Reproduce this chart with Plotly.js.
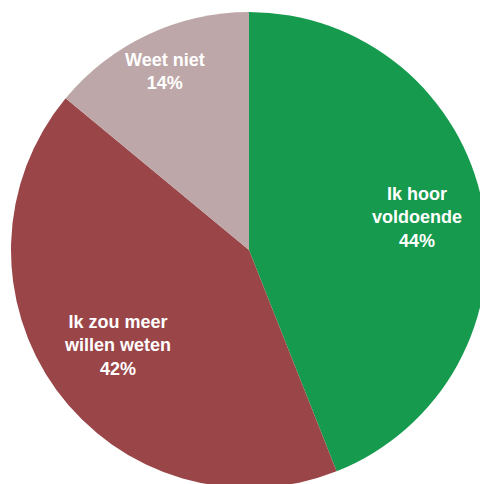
<!DOCTYPE html>
<html>
<head>
<meta charset="utf-8">
<script src="https://cdn.plot.ly/plotly-3.0.1.min.js"></script>
<style>
html,body{margin:0;padding:0;overflow:hidden;background:#fff;width:480px;height:484px;}
#chart{position:absolute;left:0;top:0;width:498px;height:500px;}
</style>
</head>
<body>
<div id="chart"></div>
<script>
const categories = ["Ik hoor<br>voldoende", "Ik zou meer<br>willen weten", "Weet niet"];
const values = [44, 42, 14];
const colors = ["#169A4E", "#9A4548", "#BEA7A8"];

// radial position of each label as a fraction of the pie radius (layout only)
const labelRadius = [0.72, 0.685, 0.83];

const trace = {
  type: "pie",
  labels: categories,
  values: values,
  sort: false,
  direction: "clockwise",
  rotation: 0,
  marker: {colors: colors, line: {width: 0}},
  textinfo: "none",
  hoverinfo: "none",
  showlegend: false
};

// place labels on each slice's mid-angle, derived from the values
const total = values.reduce((a, b) => a + b, 0);
let cum = 0;
const annotations = values.map((v, i) => {
  const mid = (cum + v / 2) / total * 2 * Math.PI;
  cum += v;
  const f = labelRadius[i];
  return {
    xref: "paper", yref: "paper",
    x: 0.5 + 0.5 * f * Math.sin(mid),
    y: 0.5 + 0.5 * f * Math.cos(mid),
    xanchor: "center", yanchor: "middle",
    showarrow: false,
    align: "center",
    text: "<b>" + categories[i] + "</b><br><b>" + Math.round(v / total * 100) + "%</b>",
    font: {family: "Liberation Sans, Arial, sans-serif", size: 18, color: "#ffffff"}
  };
});

const layout = {
  width: 498,
  height: 500,
  margin: {l: 11, r: 11, t: 12, b: 12, pad: 0},
  paper_bgcolor: "#ffffff",
  plot_bgcolor: "#ffffff",
  showlegend: false,
  annotations: annotations
};

Plotly.newPlot("chart", [trace], layout, {displayModeBar: false, staticPlot: true});
</script>
</body>
</html>
